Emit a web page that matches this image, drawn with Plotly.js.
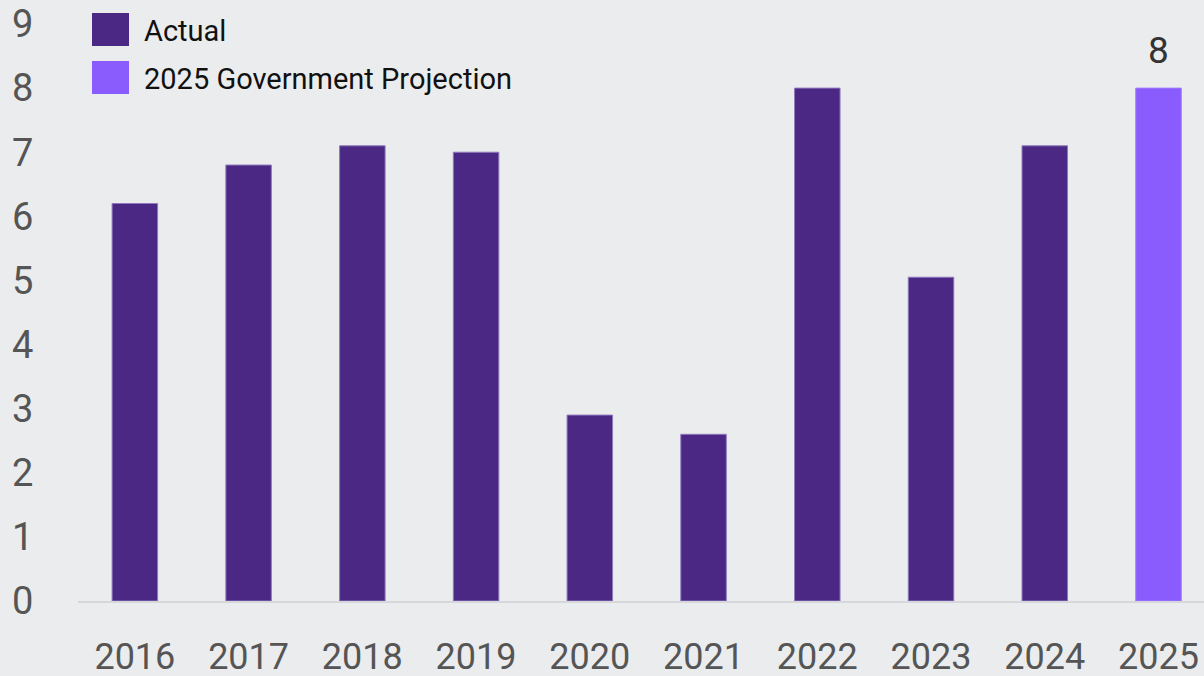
<!DOCTYPE html>
<html>
<head>
<meta charset="utf-8">
<script src="https://cdn.plot.ly/plotly-3.0.1.min.js"></script>
<style>html,body{margin:0;padding:0;background:#ebecee;}#chart{width:1204px;height:676px;}</style>
</head>
<body>
<div id="chart"></div>
<script>
const actualYears = ['2016','2017','2018','2019','2020','2021','2022','2023','2024'];
const actualValues = [6.2, 6.8, 7.1, 7.0, 2.9, 2.6, 8.0, 5.05, 7.1];
const projYears = ['2025'];
const projValues = [8];
const seriesNames = ['Actual', '2025 Government Projection'];
const seriesColors = ['#4a2884', '#8a5cfe'];
const allYears = actualYears.concat(projYears);

const W = 1204, H = 676, L = 78, R = 0, T = 24, B = 74.5;
const pw = W - L - R, ph = H - T - B;
const px2x = p => (p - L) / pw;
const py2y = p => (H - B - p) / ph;

const traces = [
  {type:'bar', x: actualYears, y: actualValues, name: seriesNames[0],
   marker:{color: seriesColors[0], line:{color:'#8f78bd', width:1}}, width:0.4, showlegend:false, hoverinfo:'x+y'},
  {type:'bar', x: projYears, y: projValues, name: seriesNames[1],
   marker:{color: seriesColors[1], line:{color:'#9c7cff', width:1}}, width:0.4, showlegend:false, hoverinfo:'x+y'}
];

const font = 'Roboto, "Open Sans", sans-serif';
const shapes = [], annotations = [];
const legendRows = [[13,46],[61,94]];
seriesNames.forEach((n,i)=>{
  shapes.push({type:'rect', xref:'paper', yref:'paper',
    x0:px2x(92), x1:px2x(129), y0:py2y(legendRows[i][1]), y1:py2y(legendRows[i][0]),
    fillcolor:seriesColors[i], line:{width:0}});
  annotations.push({xref:'paper', yref:'paper', x:px2x(142), y:py2y((legendRows[i][0]+legendRows[i][1])/2+2),
    xanchor:'left', yanchor:'middle', text:n, showarrow:false,
    font:{family:font, size:29, color:'#111111'}});
});
annotations.push({x: allYears.indexOf(projYears[0]), y: projValues[0], xref:'x', yref:'y', text:String(projValues[0]),
  showarrow:false, yanchor:'bottom', yshift:14, font:{family:font, size:37, color:'#333333'}});

const layout = {
  width: W, height: H,
  margin:{l:L, r:R, t:T, b:B, pad:0},
  paper_bgcolor:'#ebecee', plot_bgcolor:'#ebecee',
  barmode:'overlay',
  showlegend:false,
  xaxis:{type:'category', categoryorder:'array', categoryarray: allYears,
    range:[-0.5, 9.4], showgrid:false, zeroline:false,
    showline:true, linecolor:'#d6d7db', linewidth:2,
    ticks:'outside', ticklen:23, tickcolor:'rgba(0,0,0,0)',
    tickfont:{family:font, size:36, color:'#555555'}, fixedrange:true},
  yaxis:{range:[0,9], dtick:1, tick0:0, showgrid:false, zeroline:false, showline:false,
    ticks:'outside', ticklen:36, tickcolor:'rgba(0,0,0,0)',
    tickfont:{family:font, size:38, color:'#555555'}, fixedrange:true},
  shapes: shapes,
  annotations: annotations
};

Plotly.newPlot('chart', traces, layout, {displayModeBar:false, staticPlot:true});
</script>
</body>
</html>
